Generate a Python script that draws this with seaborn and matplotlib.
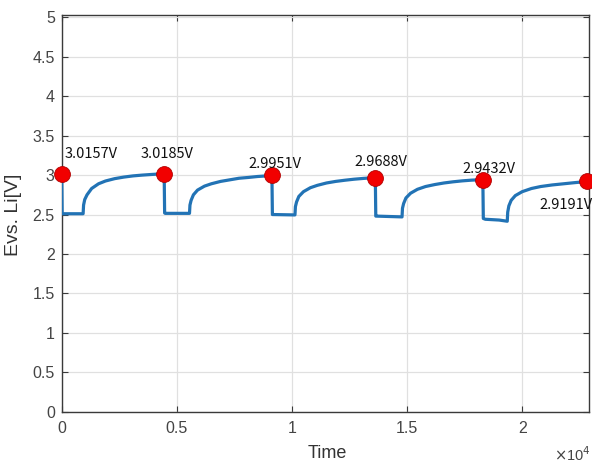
import numpy as np
import pandas as pd
import matplotlib
matplotlib.use("Agg")
import matplotlib.pyplot as plt
import seaborn as sns

# ---- data ----
cycle1_t = [0, 20, 930, 950, 1000, 1100, 1300, 1600, 1900, 2300, 2700, 3100, 3500, 3900, 4300, 4450]
cycle1_v = [3.0157, 2.51, 2.51, 2.62, 2.69, 2.75, 2.83, 2.89, 2.925, 2.955, 2.975, 2.99, 3.0, 3.008, 3.015, 3.0185]

cycle2_t = [4470, 4490, 5550, 5570, 5620, 5720, 5900, 6200, 6500, 6900, 7300, 7700, 8100, 8500, 8900, 9130]
cycle2_v = [2.52, 2.515, 2.515, 2.62, 2.68, 2.75, 2.81, 2.86, 2.89, 2.92, 2.94, 2.96, 2.97, 2.982, 2.99, 2.9951]

cycle3_t = [9150, 9170, 10130, 10150, 10200, 10300, 10500, 10800, 11100, 11500, 11900, 12300, 12700, 13100, 13400, 13620]
cycle3_v = [2.50, 2.50, 2.495, 2.60, 2.66, 2.73, 2.79, 2.84, 2.87, 2.90, 2.92, 2.935, 2.948, 2.958, 2.964, 2.9688]

cycle4_t = [13640, 13660, 14780, 14800, 14850, 14950, 15150, 15450, 15800, 16200, 16600, 17000, 17400, 17800, 18100, 18290]
cycle4_v = [2.48, 2.48, 2.47, 2.58, 2.64, 2.71, 2.77, 2.82, 2.855, 2.88, 2.90, 2.915, 2.927, 2.936, 2.940, 2.9432]

cycle5_t = [18310, 18400, 19000, 19350, 19370, 19420, 19520, 19700, 20000, 20400, 20800, 21300, 21800, 22300, 22830]
cycle5_v = [2.45, 2.44, 2.43, 2.415, 2.53, 2.61, 2.68, 2.74, 2.79, 2.83, 2.855, 2.875, 2.89, 2.905, 2.9191]

peak_t = [0, 4450, 9130, 13620, 18290, 22830]
peak_v = [3.0157, 3.0185, 2.9951, 2.9688, 2.9432, 2.9191]
peak_labels = ["3.0157V", "3.0185V", "2.9951V", "2.9688V", "2.9432V", "2.9191V"]
label_t = [140, 4580, 9240, 13880, 18560, 21880]
label_v = [3.27, 3.27, 3.14, 3.165, 3.08, 2.62]
label_ha = ["left", "center", "center", "center", "center", "center"]

xtick_vals = [0, 5000, 10000, 15000, 20000]
xtick_labels = ["0", "0.5", "1", "1.5", "2"]
ytick_vals = [0, 0.5, 1, 1.5, 2, 2.5, 3, 3.5, 4, 4.5, 5]
ytick_labels = ["0", "0.5", "1", "1.5", "2", "2.5", "3", "3.5", "4", "4.5", "5"]

# ---- build table ----
t_all = cycle1_t + cycle2_t + cycle3_t + cycle4_t + cycle5_t
v_all = cycle1_v + cycle2_v + cycle3_v + cycle4_v + cycle5_v
df = pd.DataFrame({"Time": t_all, "V": v_all})
peaks = pd.DataFrame({"Time": peak_t, "V": peak_v})

sns.set_theme(style="whitegrid")
plt.rcParams["font.family"] = ["Liberation Sans", "DejaVu Sans"]

fig = plt.figure(figsize=(5.92, 4.66), dpi=100)
ax = fig.add_axes([61.7 / 592, 54.3 / 466, (589 - 61.7) / 592, (411.7 - 15) / 466])
ax.set_facecolor("white")

sns.lineplot(data=df, x="Time", y="V", sort=False, estimator=None, ax=ax,
             color="#2273b5", linewidth=2.3, zorder=3)
sns.scatterplot(data=peaks, x="Time", y="V", ax=ax, s=130, color="#f20000",
                edgecolor="#b00000", linewidth=0.6, zorder=5, clip_on=False)

for t, v, lab, ha in zip(label_t, label_v, peak_labels, label_ha):
    ax.text(t, v, lab, ha=ha, va="center", fontsize=10.5, color="#111111",
            family=["Noto Sans CJK KR", "DejaVu Sans"], zorder=6)

ax.set_xlim(0, 22900)
ax.set_ylim(0, 5.03)
ax.set_xticks(xtick_vals)
ax.set_xticklabels(xtick_labels)
ax.set_yticks(ytick_vals)
ax.set_yticklabels(ytick_labels)

ax.grid(True, color="#e0e0e0", linewidth=0.9)
for side in ["left", "bottom", "top", "right"]:
    ax.spines[side].set_visible(True)
    ax.spines[side].set_color("#3a3a3a")
    ax.spines[side].set_linewidth(1.0)

ax.tick_params(axis="both", which="both", direction="in", length=4, width=0.8,
               colors="#3a3a3a", labelcolor="#444444", labelsize=11.5,
               top=True, right=True, bottom=True, left=True)
ax.tick_params(axis="x", pad=7)
ax.tick_params(axis="y", pad=5)

ax.set_xlabel("")
ax.set_ylabel("")
fig.text(327 / 592, 1 - 453 / 466, "Time", ha="center", va="center",
         fontsize=13, color="#333333")
fig.text(14 / 592, 1 - 215 / 466, "Evs. Li[V]", ha="center", va="center",
         rotation=90, fontsize=14, color="#333333")
fig.text(591 / 592, 1 - 455 / 466, r"$\times$10$^4$", ha="right", va="center",
         fontsize=10.5, color="#444444")

fig.savefig("out.png", dpi=100)
